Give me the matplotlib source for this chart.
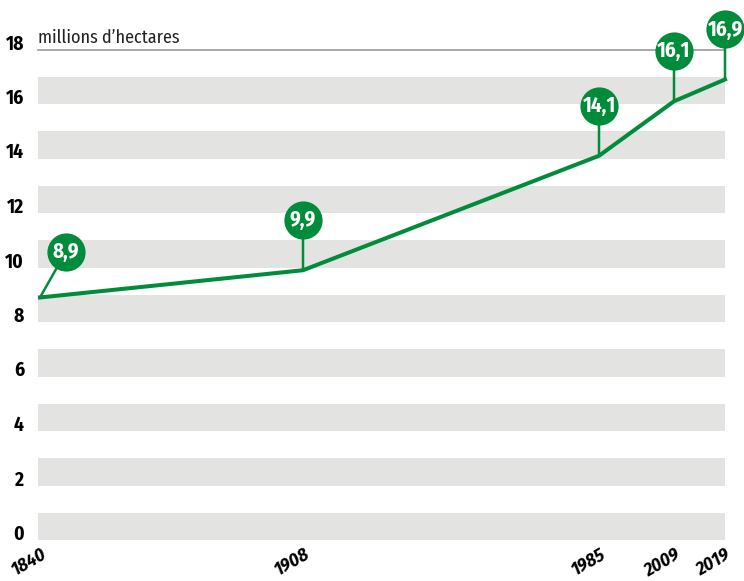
import matplotlib.pyplot as plt
import matplotlib.transforms as mtransforms
import numpy as np

# Data
years = [1840, 1908, 1985, 2009, 2019]
surface = [8.9, 9.9, 14.1, 16.1, 16.9]
labels = ["8,9", "9,9", "14,1", "16,1", "16,9"]
y_ticks = [0, 2, 4, 6, 8, 10, 12, 14, 16, 18]
unit_label = "millions d\u2019hectares"

# Style
green = '#008C3A'
band_grey = '#E3E3E2'
plt.rcParams['font.family'] = ['Fira Sans Condensed', 'Roboto Condensed', 'DejaVu Sans']

# the original x axis is not linear: place years by anchor positions (px from band start)
anchor_years = [1839.5, 1840, 1908, 1985, 2009, 2019]
anchor_pos = [0, 2, 265, 561, 636, 687]


def fwd(x):
    return np.interp(x, anchor_years, anchor_pos)


def inv(p):
    return np.interp(p, anchor_pos, anchor_years)


W, H = 744, 581
fig = plt.figure(figsize=(W / 100, H / 100), dpi=100)
ax = fig.add_axes([38 / W, 1 - 540 / H, (725 - 38) / W, (540 - 49.5) / H])
ax.set_xscale('function', functions=(fwd, inv))
ax.set_xlim(1839.5, 2019)
ax.set_ylim(0, 18)

# grey bands [0,1], [2,3], ...
for y0 in y_ticks[:-1]:
    ax.axhspan(y0, y0 + 1, color=band_grey, lw=0, zorder=0)
ax.axhline(18, color='#9A9A9A', lw=1.2, zorder=1, clip_on=False)
ax.text(0, 18.1, unit_label, transform=ax.get_yaxis_transform(),
        fontsize=13, color='#222222', ha='left', va='bottom')

# main line
ax.plot(years, surface, color=green, lw=2.9, solid_joinstyle='miter', zorder=3, clip_on=False)

# value bubbles with stems
for i, (x, v, lab) in enumerate(zip(years, surface, labels)):
    dx, dy = (18.7, 33) if i == 0 else (0, 36)
    ax.annotate('', xy=(x, v), xytext=(dx, dy), textcoords='offset points',
                arrowprops=dict(arrowstyle='-', color=green, lw=1.8, shrinkA=0, shrinkB=0),
                zorder=4, annotation_clip=False)
    trans = mtransforms.offset_copy(ax.transData, fig=fig, x=dx, y=dy, units='points')
    ax.plot([x], [v], 'o', ms=27.5, color=green, mec=green, mew=0,
            transform=trans, zorder=5, clip_on=False)
    ax.text(x, v, lab, transform=trans, color='white', fontsize=15, fontweight='bold',
            ha='center', va='center', zorder=6)

# axes cosmetics
for s in ax.spines.values():
    s.set_visible(False)
ax.set_yticks(y_ticks)
ax.set_yticklabels([str(t) for t in y_ticks])
ax.tick_params(axis='y', length=0, pad=10, labelsize=14)
for t in ax.get_yticklabels():
    t.set_fontweight('bold')
    t.set_verticalalignment('baseline')
ax.set_xticks(years)
ax.set_xticklabels([str(y) for y in years])
ax.tick_params(axis='x', length=0, pad=4, labelsize=13.5)
for t in ax.get_xticklabels():
    t.set_rotation(30)
    t.set_rotation_mode('anchor')
    t.set_ha('right')
    t.set_va('top')
    t.set_fontweight('bold')
    t.set_fontstyle('italic')

fig.savefig('out.png', dpi=100)
